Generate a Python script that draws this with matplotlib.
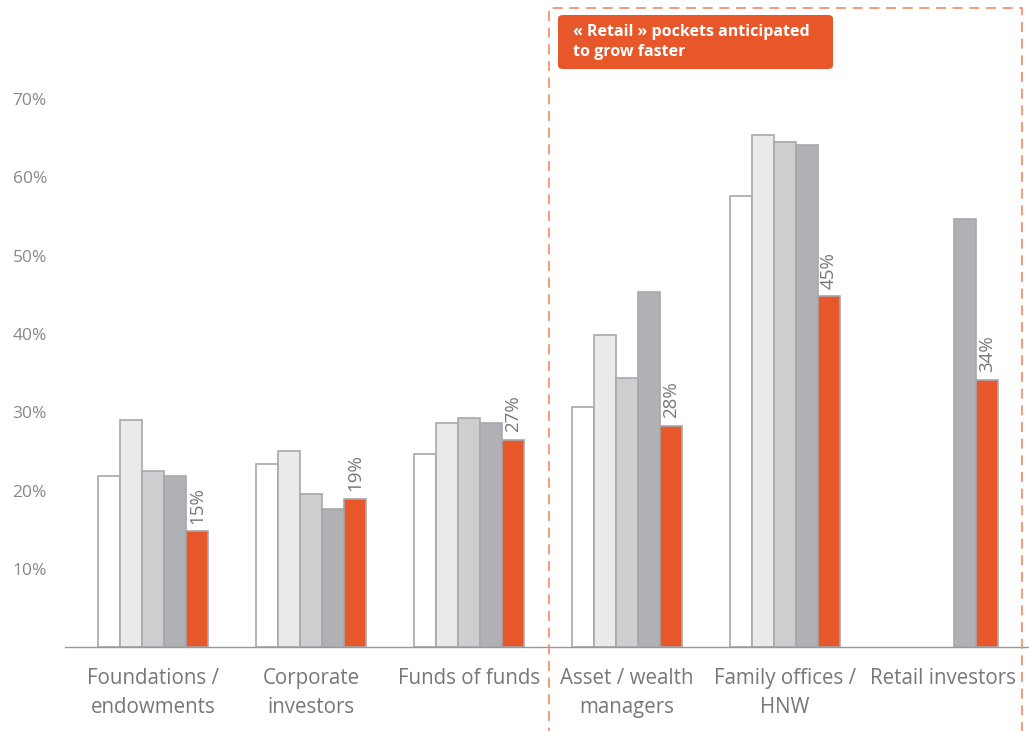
import numpy as np
import matplotlib.pyplot as plt
from matplotlib.patches import FancyBboxPatch, Rectangle

plt.rcParams['font.family'] = ['Open Sans', 'DejaVu Sans']

# Data
categories = ['Foundations /\nendowments', 'Corporate\ninvestors', 'Funds of funds',
              'Asset / wealth\nmanagers', 'Family offices /\nHNW', 'Retail investors']
series_1 = [21.9, 23.4, 24.7, 30.7, 57.6, np.nan]
series_2 = [29.0, 25.1, 28.6, 39.9, 65.4, np.nan]
series_3 = [22.5, 19.6, 29.3, 34.4, 64.5, np.nan]
series_4 = [21.9, 17.7, 28.6, 45.4, 64.1, 54.7]
series_5 = [14.8, 18.9, 26.5, 28.3, 44.8, 34.1]
value_labels = ['15%', '19%', '27%', '28%', '45%', '34%']
yticks = [10, 20, 30, 40, 50, 60, 70]

colors = ['#FFFFFF', '#EAEAEA', '#CDCED0', '#B0B1B4', '#E8572A']
all_series = [series_1, series_2, series_3, series_4, series_5]

fig = plt.figure(figsize=(10.29, 7.31), dpi=100)
ax = fig.add_axes([0.0632, 0.1145, 0.9368, 0.8035])

x = np.arange(len(categories))
w = 0.139
for i, (vals, col) in enumerate(zip(all_series, colors)):
    ax.bar(x + (i - 2) * w, vals, width=w, color=col, edgecolor='#A7A8AA',
           linewidth=1.2, zorder=2)

# rotated labels above the orange bars
for xi, v, lab in zip(x, series_5, value_labels):
    ax.text(xi + 2 * w, v + 1.0, lab, rotation=90, ha='center', va='bottom',
            fontsize=13.5, color='#777777')

ax.set_xlim(-0.557, 5.544)
ax.set_ylim(0, 75)
ax.set_xticks(x)
ax.set_xticklabels(categories, fontsize=14.8, color='#777777', linespacing=1.5)
ax.set_yticks(yticks)
ax.set_yticklabels([f'{t}%' for t in yticks], fontsize=12.5, color='#888888')
ax.tick_params(axis='both', length=0)
ax.tick_params(axis='x', pad=15)
ax.tick_params(axis='y', pad=13)
for s in ['top', 'right', 'left']:
    ax.spines[s].set_visible(False)
ax.spines['bottom'].set_color('#999999')
ax.spines['bottom'].set_linewidth(1.0)

# dashed highlight around the "retail" groups
fig.patches.append(Rectangle((549 / 1029, -0.01), (1022 - 549) / 1029, (731 - 8) / 731 + 0.01,
                             transform=fig.transFigure, fill=False,
                             edgecolor='#F08A65', linestyle=(0, (6, 4)), linewidth=1.2))
fig.patches.append(FancyBboxPatch((558 / 1029, 1 - 69 / 731), (833 - 558) / 1029, (69 - 15) / 731,
                                  boxstyle='round,pad=0,rounding_size=0.005',
                                  transform=fig.transFigure, facecolor='#E8572A',
                                  edgecolor='none'))
fig.text(573 / 1029, 1 - 42 / 731, '« Retail » pockets anticipated\nto grow faster',
         color='white', fontsize=11.5, fontweight='bold', va='center', ha='left',
         linespacing=1.3)

fig.savefig('out.png', dpi=100)
